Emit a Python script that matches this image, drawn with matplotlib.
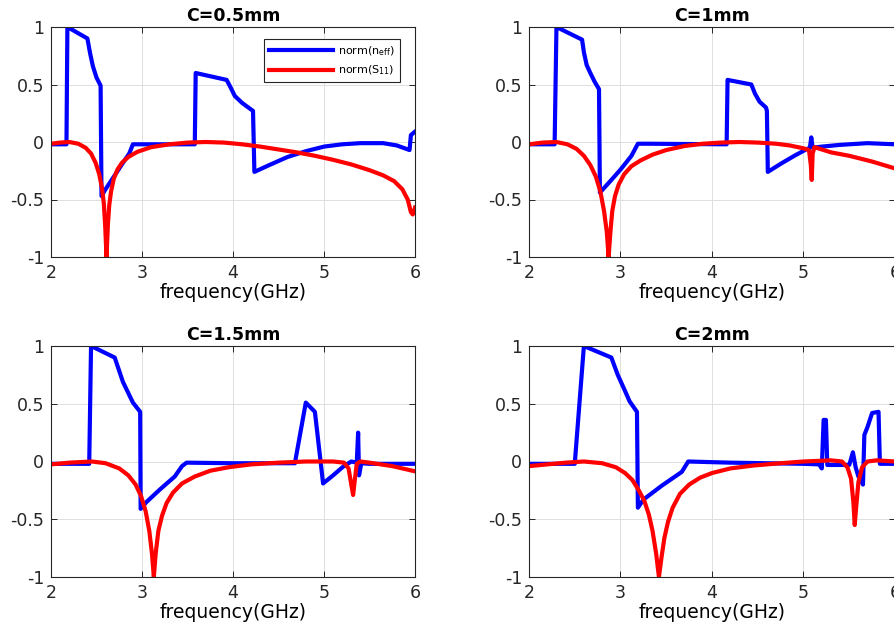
import matplotlib
matplotlib.use('Agg')
import matplotlib.pyplot as plt

plt.rcParams['font.family'] = ['DejaVu Sans']
plt.rcParams['mathtext.default'] = 'regular'

titles = ['C=0.5mm', 'C=1mm', 'C=1.5mm', 'C=2mm']
xticks = [2, 3, 4, 5, 6]
yticks = [-1, -0.5, 0, 0.5, 1]
ytick_labels = ['-1', '-0.5', '0', '0.5', '1']

# C = 0.5 mm
f_n05 = [2.0, 2.17, 2.18, 2.4, 2.43, 2.46, 2.5, 2.545, 2.555, 2.6, 2.7, 2.8, 2.86, 2.9, 3.0,
         3.58, 3.59, 3.93, 3.97, 4.02, 4.1, 4.22, 4.235, 4.4, 4.6, 4.8, 5.0, 5.2, 5.4, 5.65,
         5.8, 5.94, 5.955, 6.0]
n05 = [-0.02, -0.02, 1.0, 0.9, 0.77, 0.66, 0.56, 0.49, -0.47, -0.41, -0.29, -0.17, -0.1, -0.02, -0.02,
       -0.02, 0.6, 0.54, 0.48, 0.4, 0.34, 0.27, -0.26, -0.2, -0.13, -0.08, -0.04, -0.02, -0.01, -0.01,
       -0.03, -0.07, 0.06, 0.09]
f_s05 = [2.0, 2.1, 2.2, 2.3, 2.38, 2.44, 2.49, 2.53, 2.56, 2.58, 2.595, 2.61, 2.625, 2.64, 2.66,
         2.69, 2.73, 2.78, 2.85, 2.95, 3.1, 3.3, 3.5, 3.7, 3.9, 4.1, 4.3, 4.5, 4.7, 4.9, 5.1, 5.3,
         5.5, 5.65, 5.77, 5.86, 5.92, 5.955, 5.975, 6.0]
s05 = [-0.015, -0.005, 0.0, -0.015, -0.05, -0.1, -0.18, -0.28, -0.4, -0.53, -0.72, -1.0, -0.72, -0.55, -0.43,
       -0.32, -0.24, -0.18, -0.13, -0.085, -0.045, -0.02, -0.005, 0.0, -0.005, -0.02, -0.04, -0.065, -0.09,
       -0.12, -0.155, -0.195, -0.245, -0.29, -0.34, -0.41, -0.5, -0.61, -0.63, -0.57]

# C = 1 mm
f_n1 = [2.0, 2.28, 2.3, 2.58, 2.6, 2.63, 2.67, 2.72, 2.765, 2.775, 2.9, 3.0, 3.12, 3.19, 3.3,
        4.16, 4.17, 4.43, 4.47, 4.52, 4.59, 4.60, 4.61, 4.75, 4.9, 5.04, 5.07, 5.085, 5.1, 5.2,
        5.4, 5.7, 6.0]
n1 = [-0.02, -0.02, 1.0, 0.89, 0.78, 0.67, 0.6, 0.52, 0.46, -0.44, -0.33, -0.24, -0.12, -0.015, -0.015,
      -0.02, 0.54, 0.5, 0.42, 0.35, 0.3, 0.27, -0.26, -0.19, -0.12, -0.06, -0.05, 0.04, -0.05, -0.04,
      -0.025, -0.01, -0.02]
f_s1 = [2.0, 2.15, 2.3, 2.42, 2.52, 2.6, 2.67, 2.73, 2.78, 2.82, 2.85, 2.87, 2.89, 2.91, 2.94,
        2.98, 3.04, 3.12, 3.22, 3.35, 3.5, 3.7, 3.9, 4.1, 4.3, 4.5, 4.7, 4.85, 5.0, 5.06, 5.08,
        5.09, 5.1, 5.12, 5.3, 5.5, 5.75, 6.0]
s1 = [-0.02, -0.005, 0.0, -0.02, -0.06, -0.12, -0.2, -0.3, -0.43, -0.6, -0.78, -1.0, -0.78, -0.6, -0.47,
      -0.37, -0.28, -0.21, -0.16, -0.11, -0.07, -0.035, -0.015, -0.005, 0.0, -0.005, -0.015, -0.03, -0.055,
      -0.07, -0.2, -0.33, -0.1, -0.045, -0.09, -0.12, -0.17, -0.23]

# C = 1.5 mm
f_n15 = [2.0, 2.42, 2.44, 2.7, 2.79, 2.9, 2.98, 2.985, 3.05, 3.2, 3.36, 3.44, 3.49, 4.0, 4.68,
         4.8, 4.9, 4.99, 5.1, 5.21, 5.3, 5.36, 5.375, 5.385, 5.41, 5.5, 6.0]
n15 = [-0.02, -0.02, 1.0, 0.9, 0.69, 0.51, 0.43, -0.41, -0.35, -0.24, -0.13, -0.04, -0.01, -0.015, -0.015,
       0.51, 0.43, -0.19, -0.12, -0.045, 0.0, -0.01, 0.25, -0.12, -0.015, -0.02, -0.02]
f_s15 = [2.0, 2.2, 2.45, 2.6, 2.75, 2.85, 2.93, 2.99, 3.04, 3.08, 3.11, 3.13, 3.15, 3.18, 3.22,
         3.27, 3.34, 3.44, 3.58, 3.75, 3.95, 4.2, 4.5, 4.8, 5.1, 5.22, 5.27, 5.3, 5.32, 5.34,
         5.36, 5.4, 5.5, 5.75, 6.0]
s15 = [-0.025, -0.01, 0.0, -0.015, -0.06, -0.12, -0.2, -0.3, -0.43, -0.6, -0.8, -1.0, -0.8, -0.6, -0.47,
       -0.36, -0.27, -0.19, -0.13, -0.08, -0.05, -0.025, -0.01, 0.0, 0.0, -0.01, -0.06, -0.2, -0.29, -0.15,
       -0.02, 0.0, -0.01, -0.04, -0.085]

# C = 2 mm
f_n2 = [2.0, 2.5, 2.6, 2.9, 2.97, 3.05, 3.1, 3.18, 3.19, 3.25, 3.45, 3.67, 3.74, 4.2, 5.0,
        5.17, 5.2, 5.22, 5.245, 5.26, 5.5, 5.54, 5.57, 5.6, 5.65, 5.665, 5.7, 5.75, 5.82, 5.835, 6.0]
n2 = [-0.02, -0.02, 1.0, 0.9, 0.75, 0.61, 0.52, 0.43, -0.4, -0.33, -0.21, -0.09, 0.0, -0.01, -0.02,
      -0.025, -0.06, 0.36, 0.36, -0.03, -0.03, 0.08, -0.05, -0.13, -0.2, 0.23, 0.3, 0.42, 0.43, -0.02, -0.02]
f_s2 = [2.0, 2.2, 2.4, 2.6, 2.8, 2.95, 3.05, 3.13, 3.2, 3.26, 3.31, 3.35, 3.39, 3.42, 3.45,
        3.48, 3.52, 3.57, 3.65, 3.75, 3.87, 4.0, 4.2, 4.45, 4.75, 5.0, 5.3, 5.42, 5.48, 5.52,
        5.545, 5.56, 5.575, 5.6, 5.64, 5.7, 5.8, 6.0]
s2 = [-0.04, -0.025, -0.01, 0.0, -0.015, -0.05, -0.1, -0.16, -0.25, -0.34, -0.46, -0.6, -0.8, -1.0, -0.82,
      -0.66, -0.52, -0.4, -0.28, -0.2, -0.14, -0.1, -0.06, -0.035, -0.015, 0.0, 0.01, 0.0, -0.05, -0.15,
      -0.35, -0.55, -0.4, -0.18, -0.05, 0.0, 0.01, 0.0]

panels = [(f_n05, n05, f_s05, s05), (f_n1, n1, f_s1, s1),
          (f_n15, n15, f_s15, s15), (f_n2, n2, f_s2, s2)]

W, H = 895, 629
# axes boxes in pixels: left, top, right, bottom
boxes = [(51, 27, 415, 257), (529, 27, 895, 257),
         (51, 346, 415, 577), (529, 346, 895, 577)]

fig = plt.figure(figsize=(W / 100, H / 100), dpi=100)
fig.patch.set_facecolor('white')

for k, (fn, nv, fs, sv) in enumerate(panels):
    l, t, r, b = boxes[k]
    ax = fig.add_axes([l / W, (H - b) / H, (r - l) / W, (b - t) / H])
    ax.plot(fn, nv, color=(0, 0, 1), lw=3, solid_joinstyle='round', label='norm(n$_{eff}$)')
    ax.plot(fs, sv, color=(1, 0, 0), lw=3, solid_joinstyle='round', label='norm(S$_{11}$)')
    ax.set_xlim(2, 6)
    ax.set_ylim(-1, 1)
    ax.set_xticks(xticks)
    ax.set_yticks(yticks)
    ax.set_yticklabels(ytick_labels)
    ax.grid(True, color='#dedede', lw=0.7)
    ax.set_axisbelow(True)
    ax.tick_params(direction='in', length=4, width=0.7, labelsize=12.5, pad=5,
                   top=True, right=True, colors='#262626')
    for sp in ax.spines.values():
        sp.set_color('#262626')
        sp.set_linewidth(0.8)
    ax.set_title(titles[k], fontsize=12.5, fontweight='bold', pad=4)
    ax.set_xlabel('frequency(GHz)', fontsize=13.5, labelpad=1)
    if k == 0:
        leg = ax.legend(loc='upper right', bbox_to_anchor=(0.959, 0.948), fontsize=8,
                        handlelength=5.7, fancybox=False, framealpha=1, edgecolor='#262626',
                        borderpad=0.45, labelspacing=0.55, handletextpad=0.5, borderaxespad=0)
        leg.get_frame().set_linewidth(0.8)

fig.savefig('out.png', dpi=100)
